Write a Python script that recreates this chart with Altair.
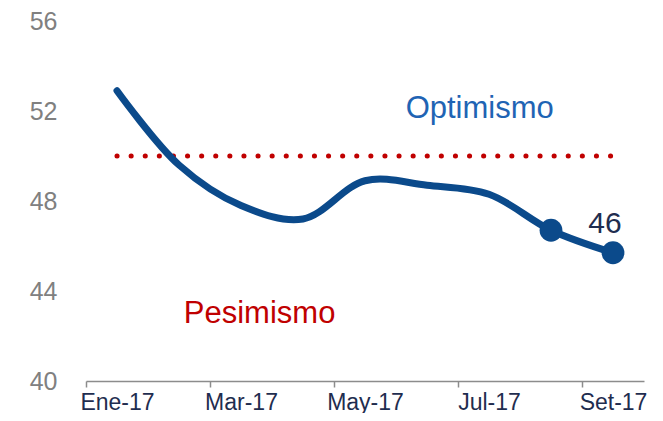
import altair as alt
import pandas as pd

months = ["Ene-17", "Feb-17", "Mar-17", "Abr-17", "May-17", "Jun-17", "Jul-17", "Ago-17", "Set-17"]
values = [52.9, 49.6, 47.8, 47.2, 48.9, 48.7, 48.3, 46.7, 45.7]
tick_labels = ["Ene-17", "Mar-17", "May-17", "Jul-17", "Set-17"]
threshold = 50
marked_months = ["Ago-17", "Set-17"]
last_label = "46"
zone_labels = ["Optimismo", "Pesimismo"]
zone_x = [5.85, 2.3]
zone_y = [52.1, 43.0]
zone_colors = ["#1F64B4", "#C00000"]

df = pd.DataFrame({"idx": list(range(len(months))), "month": months, "value": values})
df_pts = df[df["month"].isin(marked_months)]
df_last = df.tail(1).assign(label=last_label)
df_thr = pd.DataFrame({"x": [0], "x2": [len(months) - 1], "y": [threshold]})
df_zone = pd.DataFrame({"x": zone_x, "y": zone_y, "text": zone_labels, "color": zone_colors})

FONT = "Liberation Sans"
W, H = 558, 360

label_arr = "[" + ",".join("'" + t + "'" for t in tick_labels) + "]"

x_scale = alt.Scale(domain=[-0.5, len(months) - 0.5], nice=False, zero=False)
y_scale = alt.Scale(domain=[40, 56], nice=False, zero=False)

x_axis = alt.Axis(
    values=[i - 0.5 for i in range(0, len(months), 2)],
    labelExpr=label_arr + "[(datum.value + 0.5) / 2]",
    labelOffset=W / len(months) / 2,
    title=None, grid=False,
    domainColor="#8C8C8C", domainWidth=1.5,
    tickColor="#8C8C8C", tickWidth=1.5, tickSize=6,
    labelColor="#1F2D4F", labelFont=FONT, labelFontSize=23,
    labelPadding=4, labelFlush=False, labelOverlap=False, labelBound=False,
)
y_axis = alt.Axis(
    values=[40, 44, 48, 52, 56], title=None, grid=False, domain=False, ticks=False,
    labelColor="#808080", labelFont=FONT, labelFontSize=25, labelPadding=29,
)

thr = alt.Chart(df_thr).mark_rule(
    color="#C00000", strokeWidth=5, strokeDash=[0.1, 14], strokeCap="round"
).encode(
    x=alt.X("x:Q", scale=x_scale, axis=x_axis), x2="x2:Q",
    y=alt.Y("y:Q", scale=y_scale, axis=y_axis),
)

line = alt.Chart(df).mark_line(
    color="#0B4A8B", strokeWidth=7, interpolate="catmull-rom", strokeCap="round"
).encode(
    x=alt.X("idx:Q", scale=x_scale, axis=x_axis),
    y=alt.Y("value:Q", scale=y_scale, axis=y_axis),
)

pts = alt.Chart(df_pts).mark_circle(color="#0B4A8B", opacity=1, size=520).encode(
    x=alt.X("idx:Q", scale=x_scale), y=alt.Y("value:Q", scale=y_scale)
)

last_txt = alt.Chart(df_last).mark_text(
    font=FONT, fontSize=30, color="#1F2D4F", dx=-8, dy=-29
).encode(
    x=alt.X("idx:Q", scale=x_scale), y=alt.Y("value:Q", scale=y_scale), text="label:N"
)

zone_txt = alt.Chart(df_zone).mark_text(font=FONT, fontSize=31).encode(
    x=alt.X("x:Q", scale=x_scale), y=alt.Y("y:Q", scale=y_scale),
    text="text:N", color=alt.Color("color:N", scale=None),
)

chart = alt.layer(thr, line, pts, last_txt, zone_txt).properties(
    width=W, height=H,
    background="white",
    autosize=alt.AutoSizeParams(type="none"),
    padding={"left": 78, "top": 13, "right": 9, "bottom": 32},
).configure_view(strokeWidth=0, stroke=None)

chart.save("out.html", embed_options={"renderer": "svg", "actions": False})
